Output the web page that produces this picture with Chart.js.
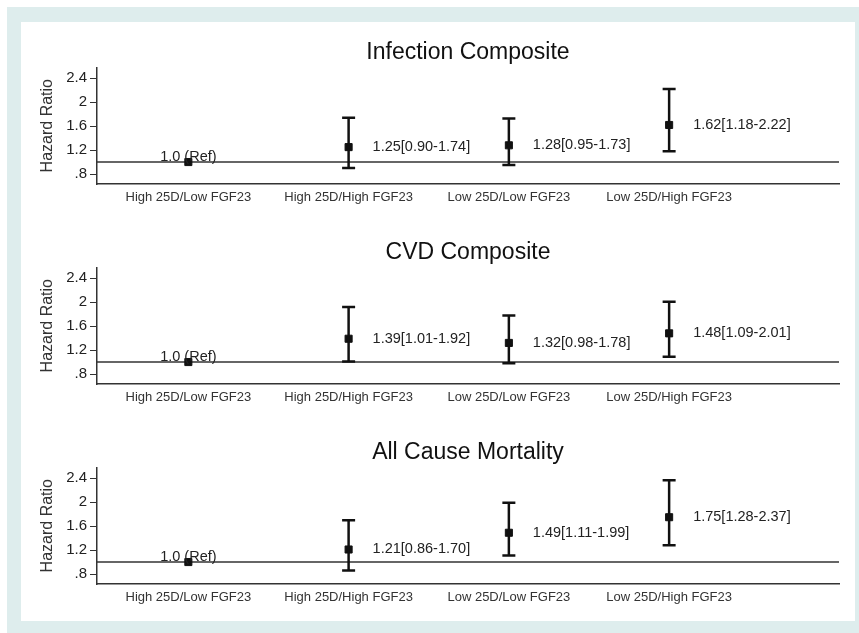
<!DOCTYPE html>
<html>
<head>
<meta charset="utf-8">
<script src="https://cdn.jsdelivr.net/npm/chart.js@4.4.0/dist/chart.umd.min.js"></script>
<style>
  html, body { margin: 0; padding: 0; background: #fff; }
  #frame { position: absolute; left: 7px; top: 7px; width: 852px; height: 626px; background: #deeded; }
  #panel { position: absolute; left: 21px; top: 22px; width: 834px; height: 599px; background: #fff; }
  canvas { position: absolute; left: 0; }
</style>
</head>
<body>
<div id="frame"></div>
<div id="panel"></div>
<canvas id="c1" width="859" height="214" style="top:0px"></canvas>
<canvas id="c2" width="859" height="214" style="top:200px"></canvas>
<canvas id="c3" width="859" height="214" style="top:400px"></canvas>
<script>
// categories (x axis)
const categories = ['High 25D/Low FGF23', 'High 25D/High FGF23', 'Low 25D/Low FGF23', 'Low 25D/High FGF23'];

// hazard ratios and 95% CI for each outcome (first group is the reference)
const infectionHR   = [1.0, 1.25, 1.28, 1.62];
const infectionLow  = [null, 0.90, 0.95, 1.18];
const infectionHigh = [null, 1.74, 1.73, 2.22];

const cvdHR   = [1.0, 1.39, 1.32, 1.48];
const cvdLow  = [null, 1.01, 0.98, 1.09];
const cvdHigh = [null, 1.92, 1.78, 2.01];

const mortalityHR   = [1.0, 1.21, 1.49, 1.75];
const mortalityLow  = [null, 0.86, 1.11, 1.28];
const mortalityHigh = [null, 1.70, 1.99, 2.37];

// y axis ticks
const yTicks = [0.8, 1.2, 1.6, 2.0, 2.4];
const yTickLabels = ['.8', '1.2', '1.6', '2', '2.4'];
const yMin = 0.633, yMax = 2.583;
const xMin = 0.43, xMax = 5.06;
const refValue = 1;
const refLabel = '1.0 (Ref)';

Chart.defaults.font.family = "'Liberation Sans', Arial, sans-serif";
Chart.defaults.color = '#333';

function makeChart(id, title, hr, low, high) {
  // whisker segments, separated by null points so the line breaks
  const whiskers = [];
  const caps = [];
  hr.forEach((v, i) => {
    if (low[i] == null) return;
    whiskers.push({x: i + 1, y: low[i]}, {x: i + 1, y: high[i]}, {x: i + 1, y: null});
    caps.push({x: i + 1, y: low[i]}, {x: i + 1, y: high[i]});
  });
  const points = hr.map((v, i) => ({x: i + 1, y: v}));

  const labels = {
    id: 'hrLabels',
    beforeDatasetsDraw(chart) {
      const {ctx, chartArea, scales: {y}} = chart;
      const yy = y.getPixelForValue(refValue);
      ctx.save();
      ctx.strokeStyle = '#333';
      ctx.lineWidth = 1.5;
      ctx.beginPath();
      ctx.moveTo(chartArea.left, yy);
      ctx.lineTo(chartArea.right, yy);
      ctx.stroke();
      ctx.restore();
    },
    afterDatasetsDraw(chart) {
      const {ctx, scales: {x, y}} = chart;
      ctx.save();
      ctx.font = "14.5px 'Liberation Sans', Arial, sans-serif";
      ctx.fillStyle = '#222';
      ctx.textBaseline = 'middle';
      hr.forEach((v, i) => {
        const px = x.getPixelForValue(i + 1);
        const py = y.getPixelForValue(v);
        if (low[i] == null) {
          ctx.textAlign = 'center';
          ctx.fillText(refLabel, px, py - 5);
        } else {
          ctx.textAlign = 'left';
          const txt = v.toFixed(2) + '[' + low[i].toFixed(2) + '-' + high[i].toFixed(2) + ']';
          ctx.fillText(txt, px + 24, py);
        }
      });
      ctx.restore();
    }
  };

  return new Chart(document.getElementById(id), {
    type: 'scatter',
    data: {
      datasets: [
        {
          data: whiskers,
          showLine: true,
          spanGaps: false,
          borderColor: '#111',
          borderWidth: 2.5,
          pointRadius: 0
        },
        {
          data: caps,
          pointStyle: 'line',
          pointRadius: 6.5,
          borderColor: '#111',
          borderWidth: 2.5
        },
        {
          data: points,
          pointStyle: 'rect',
          pointRadius: 5,
          backgroundColor: '#111',
          borderColor: '#111',
          borderWidth: 1
        }
      ]
    },
    options: {
      responsive: false,
      animation: false,
      events: [],
      layout: { padding: { left: 34, right: 20, top: 30, bottom: 0 } },
      plugins: {
        legend: { display: false },
        tooltip: { enabled: false },
        title: {
          display: true,
          text: title,
          fullSize: false,
          color: '#111',
          font: { size: 23, weight: 'normal' },
          padding: { top: 9.2, bottom: 0.6 }
        }
      },
      scales: {
        x: {
          type: 'linear',
          min: xMin,
          max: xMax,
          afterBuildTicks: s => { s.ticks = categories.map((c, i) => ({value: i + 1})); },
          afterFit: s => { s.height = 30; },
          grid: { drawOnChartArea: false, drawTicks: false },
          border: { display: true, color: '#333', width: 1.5 },
          ticks: {
            autoSkip: false,
            maxRotation: 0,
            padding: 6,
            color: '#333',
            font: { size: 13 },
            callback: (v, i) => categories[i]
          }
        },
        y: {
          type: 'linear',
          min: yMin,
          max: yMax,
          afterBuildTicks: s => { s.ticks = yTicks.map(v => ({value: v})); },
          afterFit: s => { s.width = 63; },
          grid: { drawOnChartArea: false, drawTicks: true, tickLength: 7, tickColor: '#333' },
          border: { display: true, color: '#333', width: 1.5 },
          ticks: {
            padding: 3,
            color: '#222',
            font: { size: 15 },
            callback: (v, i) => yTickLabels[i]
          },
          title: {
            display: true,
            text: 'Hazard Ratio',
            color: '#333',
            font: { size: 16 },
            padding: { top: 4, bottom: 0 }
          }
        }
      }
    },
    plugins: [labels]
  });
}

makeChart('c1', 'Infection Composite', infectionHR, infectionLow, infectionHigh);
makeChart('c2', 'CVD Composite', cvdHR, cvdLow, cvdHigh);
makeChart('c3', 'All Cause Mortality', mortalityHR, mortalityLow, mortalityHigh);
</script>
</body>
</html>
